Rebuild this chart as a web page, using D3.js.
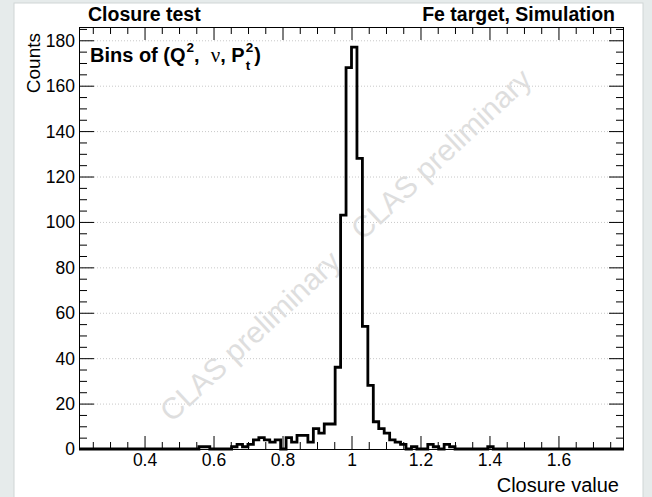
<!DOCTYPE html>
<html><head><meta charset="utf-8">
<script src="https://cdn.jsdelivr.net/npm/d3@7"></script>
<style>body{margin:0;background:#e6ebeb;overflow:hidden} svg{display:block}</style>
</head><body><svg id="c" width="652" height="497"></svg>
<script>
// ---- data ----
const binStart = 0.21;
const binWidth = 0.0158;
const counts = [
  0,0,0,0,0,0,0,0,0,0, 0,0,0,0,0,0,0,0,0,0,
  0,0,1,1,0,0,0,0,1,2, 1,2,4,5,4,3,4,0,5,3,
  6,6,3,9,7,11,11,36,103,168, 177,128,54,28,12,9,7,4,3,2,
  0,1,0,0,2,1,0,2,1,0, 0,0,0,0,0,1,0,0,0,0,
  0,0,0,0,0,0,0,0,0,0, 0,0,0,0,0,0,0,0,0,0
];
const xDomain = [0.21, 1.79];
const yDomain = [0, 185.85];
const xTickValues = [0.4, 0.6, 0.8, 1, 1.2, 1.4, 1.6];
const xTickLabels = ["0.4", "0.6", "0.8", "1", "1.2", "1.4", "1.6"];
const yTickValues = [0, 20, 40, 60, 80, 100, 120, 140, 160, 180];
const yTickLabels = ["0", "20", "40", "60", "80", "100", "120", "140", "160", "180"];
const titleLeft = "Closure test";
const titleRight = "Fe target, Simulation";
const xTitle = "Closure value";
const yTitle = "Counts";
const watermark = "CLAS preliminary";

// ---- layout ----
const svg = d3.select("#c");
const L = 79, R = 624, T = 27, B = 449;
const x = d3.scaleLinear().domain(xDomain).range([L, R]);
const y = d3.scaleLinear().domain(yDomain).range([B, T]);
const font = "'Liberation Sans', Arial, Helvetica, sans-serif";

svg.append("rect").attr("x", 14).attr("y", 3).attr("width", 629).attr("height", 500)
  .attr("fill", "#fff").attr("stroke", "#cfd6d6").attr("stroke-width", 1);

// grid
svg.append("g").selectAll("line").data(yTickValues.filter(v => v > 0)).join("line")
  .attr("x1", L).attr("x2", R).attr("y1", d => y(d) + 0.5).attr("y2", d => y(d) + 0.5)
  .attr("stroke", "#c8c8c8").attr("stroke-width", 1).attr("stroke-dasharray", "1,2");

// watermark
const wm = svg.append("g").attr("font-family", font).attr("font-size", 30)
  .attr("fill", "#dedede").attr("text-anchor", "middle");
[[250, 336], [441, 154]].forEach(([cx, cy]) => {
  wm.append("text").attr("transform", `translate(${cx},${cy}) rotate(-43)`)
    .attr("dy", "0.35em").text(watermark);
});

// axes with d3 ticks (ROOT style, inside)
const xMinor = d3.range(0.25, 1.79, 0.05).filter(v => !xTickValues.some(t => Math.abs(t - v) < 1e-6));
const yMinor = d3.range(5, 186, 5).filter(v => v % 20 !== 0);

const gxb = svg.append("g").attr("transform", `translate(0,${B})`)
  .call(d3.axisBottom(x).tickValues(xTickValues).tickFormat((d, i) => xTickLabels[i]).tickSizeInner(-13).tickSizeOuter(0));
gxb.select(".domain").remove();
gxb.selectAll("text").attr("font-family", font).attr("font-size", 17.5).attr("fill", "#000")
  .attr("y", 5).attr("dy", "0.71em");
svg.append("g").attr("transform", `translate(0,${B})`)
  .call(d3.axisBottom(x).tickValues(xMinor).tickFormat("").tickSizeInner(-7).tickSizeOuter(0))
  .select(".domain").remove();
svg.append("g").attr("transform", `translate(0,${T})`)
  .call(d3.axisTop(x).tickValues(xTickValues).tickFormat("").tickSizeInner(-13).tickSizeOuter(0))
  .select(".domain").remove();
svg.append("g").attr("transform", `translate(0,${T})`)
  .call(d3.axisTop(x).tickValues(xMinor).tickFormat("").tickSizeInner(-7).tickSizeOuter(0))
  .select(".domain").remove();

const gyl = svg.append("g").attr("transform", `translate(${L},0)`)
  .call(d3.axisLeft(y).tickValues(yTickValues).tickFormat((d, i) => yTickLabels[i]).tickSizeInner(-15).tickSizeOuter(0));
gyl.select(".domain").remove();
gyl.selectAll("text").attr("font-family", font).attr("font-size", 17.5).attr("fill", "#000")
  .attr("x", -4).attr("dy", "0.34em");
svg.append("g").attr("transform", `translate(${L},0)`)
  .call(d3.axisLeft(y).tickValues(yMinor).tickFormat("").tickSizeInner(-8).tickSizeOuter(0))
  .select(".domain").remove();
svg.append("g").attr("transform", `translate(${R},0)`)
  .call(d3.axisRight(y).tickValues(yTickValues).tickFormat("").tickSizeInner(-15).tickSizeOuter(0))
  .select(".domain").remove();
svg.append("g").attr("transform", `translate(${R},0)`)
  .call(d3.axisRight(y).tickValues(yMinor).tickFormat("").tickSizeInner(-8).tickSizeOuter(0))
  .select(".domain").remove();
svg.selectAll(".tick line").attr("stroke", "#000").attr("stroke-width", 1);

// frame
svg.append("rect").attr("x", L + 0.5).attr("y", T + 0.5).attr("width", R - L - 1).attr("height", B - T)
  .attr("fill", "none").attr("stroke", "#000").attr("stroke-width", 1);

// histogram
const pts = [];
counts.forEach((c, i) => {
  const x0 = binStart + i * binWidth, x1 = x0 + binWidth;
  pts.push([x0, c], [x1, c]);
});
svg.append("path").datum(pts)
  .attr("d", d3.line().x(d => x(Math.min(Math.max(d[0], xDomain[0]), xDomain[1]))).y(d => y(d[1])))
  .attr("fill", "none").attr("stroke", "#000").attr("stroke-width", 2.8).attr("stroke-linejoin", "miter");

// titles
svg.append("text").attr("x", 88).attr("y", 21).attr("font-family", font).attr("font-weight", "bold")
  .attr("font-size", 19.5).text(titleLeft);
svg.append("text").attr("x", 615).attr("y", 21).attr("text-anchor", "end").attr("font-family", font)
  .attr("font-weight", "bold").attr("font-size", 19.5).text(titleRight);
svg.append("text").attr("x", 619).attr("y", 492).attr("text-anchor", "end").attr("font-family", font)
  .attr("font-size", 20).text(xTitle);
svg.append("text").attr("transform", "translate(40,33) rotate(-90)").attr("text-anchor", "end")
  .attr("font-family", font).attr("font-size", 19).text(yTitle);

// "Bins of (Q^2, nu, P_t^2)" label
const lab = svg.append("g").attr("font-family", font).attr("font-weight", "bold").attr("fill", "#000");
let cx = 90; const base = 62;
function seg(t, opt = {}) {
  const el = lab.append("text").attr("x", cx).attr("y", base + (opt.dy || 0))
    .attr("font-size", opt.size || 20).style("white-space", "pre").text(t);
  if (opt.family) el.attr("font-family", opt.family);
  if (opt.weight) el.attr("font-weight", opt.weight);
  const w = el.node().getComputedTextLength();
  if (!opt.noAdvance) cx += w;
  return w;
}
seg("Bins of (Q");
cx += 1; seg("2", { size: 13.5, dy: -10 });
seg(",\u00A0\u00A0");
seg("\u03BD", { family: "'Liberation Serif', 'Times New Roman', serif", weight: "normal", size: 21 });
seg(",\u00A0P");
cx += 1;
const w1 = seg("2", { size: 13.5, dy: -10, noAdvance: true });
const w2 = seg("t", { size: 13.5, dy: 8, noAdvance: true });
cx += Math.max(w1, w2) + 1;
seg(")");
</script></body></html>
